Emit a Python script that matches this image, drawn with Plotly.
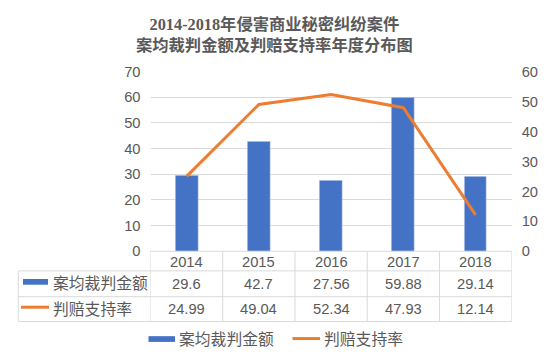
import plotly.graph_objects as go

years = ["2014", "2015", "2016", "2017", "2018"]
amount = [29.6, 42.7, 27.56, 59.88, 29.14]
rate = [24.99, 49.04, 52.34, 47.93, 12.14]
amount_name = "案均裁判金额"
rate_name = "判赔支持率"
title_lines = ["2014-2018年侵害商业秘密纠纷案件", "案均裁判金额及判赔支持率年度分布图"]

W, H = 548, 363
BLUE = "#4472C4"
ORANGE = "#ED7D31"
GRID = "#D9D9D9"
TXT = "#595959"
FONT = "Liberation Sans, Noto Sans CJK SC, sans-serif"

def px(x):
    return x / W

def py(y):
    return (H - y) / H

plot_l, plot_r, plot_t, plot_b = 150.5, 511.7, 66.5, 254.5
row1_b, row2_b, row3_b = 275.0, 302.0, 328.0
table_l = 18.3

fig = go.Figure()
fig.add_trace(go.Bar(x=years, y=amount, name=amount_name, marker_color=BLUE,
                     width=0.315, yaxis="y", showlegend=False))
fig.add_trace(go.Scatter(x=years, y=rate, name=rate_name, mode="lines",
                         line=dict(color=ORANGE, width=3), yaxis="y2", showlegend=False))

shapes = []
ann = []
line_style = dict(color=GRID, width=1)
# vertical table lines at category boundaries
for i in range(len(years) + 1):
    shapes.append(dict(type="line", xref="x", yref="paper", x0=i - 0.5, x1=i - 0.5,
                       y0=py(plot_b), y1=py(row3_b), line=line_style))
# horizontal table lines
for yy in (plot_b, row1_b, row2_b, row3_b):
    shapes.append(dict(type="line", xref="paper", yref="paper",
                       x0=px(plot_l if yy == plot_b else table_l), x1=px(plot_r),
                       y0=py(yy), y1=py(yy), line=line_style))
shapes.append(dict(type="line", xref="paper", yref="paper", x0=px(table_l), x1=px(table_l),
                   y0=py(row1_b), y1=py(row3_b), line=line_style))

# table texts
tfont = dict(family=FONT, size=14.7, color=TXT)
r1c = (plot_b + row1_b) / 2 + 0.5
r2c = (row1_b + row2_b) / 2
r3c = (row2_b + row3_b) / 2
for i, yr in enumerate(years):
    for txt, yc in ((yr, r1c), (f"{amount[i]:g}", r2c), (f"{rate[i]:g}", r3c)):
        ann.append(dict(x=i, y=py(yc), xref="x", yref="paper", text=txt, showarrow=False,
                        font=tfont, xanchor="center", yanchor="middle"))

cfont = dict(family=FONT, size=15.8, color=TXT)
# row keys
shapes.append(dict(type="rect", xref="paper", yref="paper", x0=px(23), x1=px(48),
                   y0=py(289.5), y1=py(283.5), fillcolor=BLUE, line=dict(width=0)))
ann.append(dict(x=px(50.5), y=py(r2c), xref="paper", yref="paper", text=amount_name,
                showarrow=False, font=cfont, xanchor="left", yanchor="middle"))
shapes.append(dict(type="line", xref="paper", yref="paper", x0=px(21), x1=px(49),
                   y0=py(313), y1=py(313), line=dict(color=ORANGE, width=3)))
ann.append(dict(x=px(50.5), y=py(r3c), xref="paper", yref="paper", text=rate_name,
                showarrow=False, font=cfont, xanchor="left", yanchor="middle"))

# bottom legend
leg_y = 346.3
shapes.append(dict(type="rect", xref="paper", yref="paper", x0=px(148.5), x1=px(175),
                   y0=py(leg_y + 3), y1=py(leg_y - 3), fillcolor=BLUE, line=dict(width=0)))
ann.append(dict(x=px(177), y=py(leg_y), xref="paper", yref="paper", text=amount_name,
                showarrow=False, font=cfont, xanchor="left", yanchor="middle"))
shapes.append(dict(type="line", xref="paper", yref="paper", x0=px(292.5), x1=px(320),
                   y0=py(leg_y - 0.5), y1=py(leg_y - 0.5), line=dict(color=ORANGE, width=3)))
ann.append(dict(x=px(321.5), y=py(leg_y), xref="paper", yref="paper", text=rate_name,
                showarrow=False, font=cfont, xanchor="left", yanchor="middle"))

# title
ann.append(dict(x=px(274), y=py(28.5), xref="paper", yref="paper",
                text="<br>".join("<b>" + t + "</b>" for t in title_lines),
                showarrow=False, xanchor="center", yanchor="middle",
                font=dict(family="Liberation Serif, Noto Sans CJK SC, serif", size=16.3, color=TXT)))

fig.update_layout(
    width=W, height=H,
    margin=dict(l=0, r=0, t=0, b=0),
    paper_bgcolor="white", plot_bgcolor="white",
    showlegend=False,
    bargap=0,
    xaxis=dict(type="category", domain=[px(plot_l), px(plot_r)], range=[-0.5, 4.5],
               showticklabels=False, showgrid=False, showline=False, zeroline=False, ticks=""),
    yaxis=dict(domain=[py(plot_b), py(plot_t)], range=[0, 70], dtick=10, showgrid=True,
               gridcolor=GRID, gridwidth=1, zeroline=False, showline=False, ticks="",
               tickfont=dict(family=FONT, size=14.7, color=TXT), ticklabelstandoff=9),
    yaxis2=dict(overlaying="y", side="right", range=[0, 60], dtick=10, showgrid=False,
                zeroline=False, showline=False, ticks="",
                tickfont=dict(family=FONT, size=14.7, color=TXT), ticklabelstandoff=9),
    shapes=shapes,
    annotations=ann,
)

fig.write_html("out.html", config={"displayModeBar": False},
               post_script="document.body.style.margin='0px';document.body.style.padding='0px';")
